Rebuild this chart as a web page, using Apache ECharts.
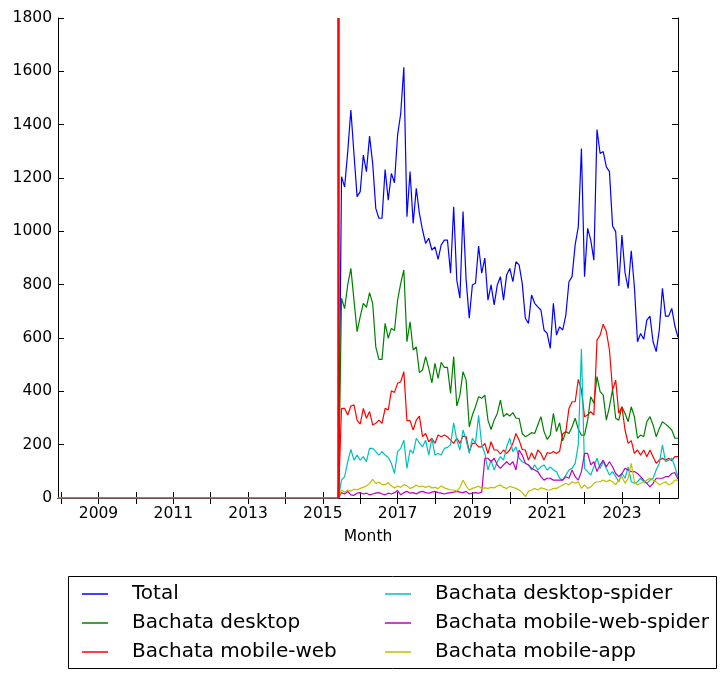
<!DOCTYPE html>
<html>
<head>
<meta charset="utf-8">
<script src="https://cdn.jsdelivr.net/npm/echarts@6/dist/echarts.min.js"></script>
<style>
  html, body { margin: 0; padding: 0; background: #fff; }
  #chart { width: 726px; height: 679px; }
</style>
</head>
<body>
<div id="chart"></div>
<script>
// months shown on the x axis: 2007-12 .. 2024-07
const firstMonth = [2007, 12];
const lastMonth = [2024, 7];
const months = [];
for (let y = firstMonth[0], m = firstMonth[1]; y < lastMonth[0] || (y === lastMonth[0] && m <= lastMonth[1]); ) {
  months.push(y + '-' + String(m).padStart(2, '0'));
  m++;
  if (m > 12) { m = 1; y++; }
}

// 2007-12 .. 2015-06 : nothing recorded (flat at zero)
const preLaunchZeros = [
  0,0,0,0,0,0,0,0,0,0, 0,0,0,0,0,0,0,0,0,0, 0,0,0,0,0,0,0,0,0,0,
  0,0,0,0,0,0,0,0,0,0, 0,0,0,0,0,0,0,0,0,0, 0,0,0,0,0,0,0,0,0,0,
  0,0,0,0,0,0,0,0,0,0, 0,0,0,0,0,0,0,0,0,0, 0,0,0,0,0,0,0,0,0,0,
  0
];
const launchMarker = '2015-06';

// 2015-07 .. 2024-07
const total = [
  1205,1166,1300,1455,1290,1130,1149,1286,1224,1357,1255,1086,
  1049,1049,1232,1117,1217,1182,1361,1442,1615,1055,1224,1030,
  1161,1067,1005,955,974,930,942,895,949,967,967,843,
  1092,817,749,1074,817,674,799,805,945,843,900,742,
  799,724,799,830,742,836,861,811,886,874,805,674,
  655,761,730,717,705,630,617,561,730,611,642,630,
  686,811,830,950,1017,1311,830,1011,967,892,1382,1292,
  1299,1242,1224,1020,999,795,986,845,786,927,792,586,
  617,595,667,682,586,549,630,786,682,682,711,645,
  602
];
const desktop = [
  749,710,800,861,742,624,680,730,715,770,730,567,
  520,520,655,599,636,628,742,805,855,586,661,555,
  567,470,480,530,486,432,505,449,509,490,490,392,
  530,345,386,474,442,267,311,342,380,374,386,292,
  257,292,317,367,305,317,307,320,299,299,242,230,
  236,245,242,274,305,249,220,236,317,249,282,214,
  249,242,267,299,258,236,236,292,380,355,455,399,
  386,292,342,407,299,292,342,317,286,342,305,224,
  236,230,286,305,274,230,261,286,277,267,255,224,
  224
];
const mobileWeb = [
  336,336,311,345,349,292,277,336,299,324,274,280,
  292,280,336,330,402,396,430,436,474,290,290,255,
  292,307,230,242,211,224,205,236,230,236,230,217,
  205,224,205,232,230,174,205,205,192,192,205,167,
  211,180,180,165,180,167,180,205,242,217,182,180,
  142,170,145,180,167,142,170,167,174,167,175,240,
  249,336,361,361,445,405,305,311,324,311,592,611,
  652,624,555,405,442,317,342,255,205,215,167,180,
  161,180,155,180,155,130,142,149,142,149,140,155,
  155
];
const desktopSpider = [
  67,80,136,182,142,161,142,155,136,186,186,174,
  161,174,161,152,130,92,174,186,217,111,180,167,
  224,207,192,217,161,224,161,167,161,186,190,200,
  282,217,180,255,217,167,224,205,310,199,167,105,
  142,105,136,155,142,192,224,174,192,149,136,130,
  124,105,124,105,117,124,105,117,105,99,74,67,
  86,105,111,130,200,560,111,99,86,117,149,111,
  136,111,86,99,80,61,92,74,117,61,55,61,
  74,61,55,67,74,105,130,199,136,142,149,117,
  80
];
const mobileWebSpider = [
  20,15,25,12,10,18,20,15,18,12,15,18,
  20,15,12,18,15,20,28,12,20,25,18,20,
  15,22,25,20,18,22,25,20,18,15,18,20,
  22,25,22,20,25,15,18,20,18,22,149,149,
  136,149,124,111,124,136,124,136,105,180,161,130,
  124,111,105,99,80,67,74,74,67,67,67,67,
  80,74,105,80,67,99,167,167,124,136,99,124,
  142,117,136,117,92,80,92,111,105,99,99,92,
  80,67,55,42,55,74,74,74,80,80,92,95,
  70
];
const mobileApp = [
  30,22,30,26,33,30,36,40,45,55,70,55,
  60,50,50,58,45,38,45,40,50,45,36,40,
  49,42,45,40,45,38,40,35,45,38,34,30,
  30,26,40,67,45,30,36,40,45,36,38,36,
  40,38,45,49,40,36,43,40,36,30,20,5,
  25,30,36,30,38,35,30,30,36,36,42,49,
  55,49,61,55,61,36,49,36,42,55,61,61,
  67,61,67,61,49,67,80,55,74,130,61,49,
  55,61,67,74,67,61,49,55,61,49,55,67,
  67
];

const seriesNames = ['Total', 'Bachata desktop', 'Bachata mobile-web',
  'Bachata desktop-spider', 'Bachata mobile-web-spider', 'Bachata mobile-app'];
const seriesValues = [total, desktop, mobileWeb, desktopSpider, mobileWebSpider, mobileApp];
const seriesColors = ['#0000ff', '#008000', '#ff0000', '#00bfbf', '#bf00bf', '#bfbf00'];

const yMin = 0, yMax = 1800, yStep = 200;
const font = 'DejaVu Sans';

const isJan = (idx, v) => v.slice(5) === '01';
const isOddJan = (idx, v) => isJan(idx, v) && (+v.slice(0, 4)) % 2 === 1;

let chart = echarts.init(document.getElementById('chart'));

let option = {
  animation: false,
  backgroundColor: '#fff',
  textStyle: { fontFamily: font },
  grid: { left: 58, right: 48, top: 18, bottom: 181 },
  xAxis: [
    {
      type: 'category',
      data: months,
      boundaryGap: false,
      position: 'bottom',
      name: 'Month',
      nameLocation: 'middle',
      nameGap: 31,
      nameTextStyle: { color: '#000', fontSize: 15.5, fontFamily: font },
      axisLine: { lineStyle: { color: '#000', width: 1 } },
      axisTick: { inside: true, length: 6, interval: isJan, lineStyle: { color: '#000' } },
      axisLabel: {
        interval: isOddJan,
        formatter: v => v.slice(0, 4),
        color: '#000', fontSize: 15.5, fontFamily: font, margin: 8
      },
      splitLine: { show: false }
    },
    {
      // top frame with mirrored ticks
      type: 'category',
      data: months,
      boundaryGap: false,
      position: 'top',
      axisLine: { lineStyle: { color: '#000', width: 1 } },
      axisTick: { inside: true, length: 6, interval: isJan, lineStyle: { color: '#000' } },
      axisLabel: { show: false },
      splitLine: { show: false }
    }
  ],
  yAxis: [
    {
      type: 'value',
      min: yMin, max: yMax, interval: yStep,
      position: 'left',
      axisLine: { show: true, lineStyle: { color: '#000', width: 1 } },
      axisTick: { show: true, inside: true, length: 6, lineStyle: { color: '#000' } },
      axisLabel: { color: '#000', fontSize: 15.5, fontFamily: font, margin: 6, formatter: v => String(v) },
      splitLine: { show: false }
    },
    {
      type: 'value',
      min: yMin, max: yMax, interval: yStep,
      position: 'right',
      axisLine: { show: true, lineStyle: { color: '#000', width: 1 } },
      axisTick: { show: true, inside: true, length: 6, lineStyle: { color: '#000' } },
      axisLabel: { show: false },
      splitLine: { show: false }
    }
  ],
  legend: [
    {
      data: seriesNames.slice(0, 3),
      orient: 'vertical',
      left: 82, top: 584,
      padding: 0,
      itemGap: 9,
      itemWidth: 26, itemHeight: 1.5,
      icon: 'rect',
      textStyle: { color: '#000', fontSize: 20, fontFamily: font, lineHeight: 20, padding: [0, 0, 0, 19] }
    },
    {
      data: seriesNames.slice(3),
      orient: 'vertical',
      left: 385, top: 584,
      padding: 0,
      itemGap: 9,
      itemWidth: 26, itemHeight: 1.5,
      icon: 'rect',
      textStyle: { color: '#000', fontSize: 20, fontFamily: font, lineHeight: 20, padding: [0, 0, 0, 19] }
    }
  ],
  graphic: [
    {
      type: 'rect',
      left: 68, top: 576, z: -1,
      shape: { width: 648, height: 92 },
      style: { fill: '#fff', stroke: '#000', lineWidth: 1 }
    }
  ],
  series: seriesNames.map((name, i) => {
    let s = {
      name: name,
      type: 'line',
      data: preLaunchZeros.concat(seriesValues[i]),
      showSymbol: false,
      symbol: 'none',
      color: seriesColors[i],
      lineStyle: { color: seriesColors[i], width: 1.2 },
      emphasis: { disabled: true }
    };
    if (i === 0) {
      s.markLine = {
        silent: true,
        symbol: 'none',
        label: { show: false },
        lineStyle: { color: '#ff0000', width: 2.5, type: 'solid' },
        data: [{ xAxis: launchMarker }]
      };
    }
    return s;
  })
};

chart.setOption(option);
</script>
</body>
</html>
